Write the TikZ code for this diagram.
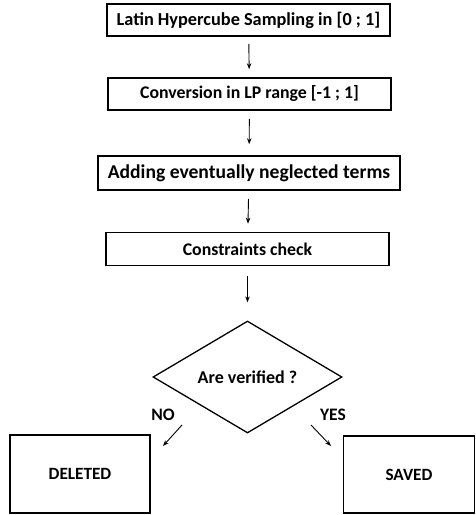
\documentclass[tikz,border=0pt]{standalone}
\usepackage{fontspec}
\setmainfont{Carlito}
\usetikzlibrary{shapes.geometric,arrows.meta}
\begin{document}
\begin{tikzpicture}[x=1pt,y=-1pt,
  box/.style={draw,line width=1.6pt,inner sep=0pt,font=\bfseries\fontsize{17.8}{20}\selectfont},
  arr/.style={-{Stealth[length=6pt,width=4.5pt]},line width=0.9pt},
  lbl/.style={font=\bfseries\fontsize{17.5}{20}\selectfont,inner sep=0pt}]
\useasboundingbox (0,0) rectangle (475,515);
\node[box,minimum width=283pt,minimum height=32pt,font=\bfseries\fontsize{18.3}{20}\selectfont] (b1) at (248.5,20) {Latin Hypercube Sampling in [0 ; 1]};
\node[box,minimum width=283pt,minimum height=32pt] (b2) at (249.5,94) {Conversion in LP range [-1 ; 1]};
\node[box,minimum width=302pt,minimum height=34pt,font=\bfseries\fontsize{19.6}{22}\selectfont] (b3) at (249,173) {Adding eventually neglected terms};
\node[box,minimum width=283pt,minimum height=33pt] (b4) at (247.5,249) {Constraints check};
\node[diamond,draw,line width=1.3pt,minimum width=189pt,minimum height=112pt,aspect=1.69,inner sep=0pt,font=\bfseries\fontsize{18}{20}\selectfont] (d) at (247.5,377) {Are verified ?};
\node[box,minimum width=140pt,minimum height=78pt,font=\bfseries\fontsize{17.2}{20}\selectfont] (del) at (80,474) {DELETED};
\node[box,minimum width=131pt,minimum height=77pt,font=\bfseries\fontsize{17.2}{20}\selectfont] (sav) at (409,474.5) {SAVED};
\draw[arr,shorten <=7pt,shorten >=8pt] (b1) -- (b2);
\draw[arr,shorten <=8pt,shorten >=11pt] (b2) -- (b3);
\draw[arr,shorten <=8pt,shorten >=8pt] (b3) -- (b4);
\draw[arr,shorten <=10pt,shorten >=18pt] (b4) -- (d);
\node[lbl] (no) at (163,415) {NO};
\node[lbl] (yes) at (333,415) {YES};
\coordinate (n1) at (182,425);
\coordinate (n2) at (163,446);
\coordinate (y1) at (311,425);
\coordinate (y2) at (331,446);
\draw[arr] (n1) -- (n2);
\draw[arr] (y1) -- (y2);
\end{tikzpicture}
\end{document}
